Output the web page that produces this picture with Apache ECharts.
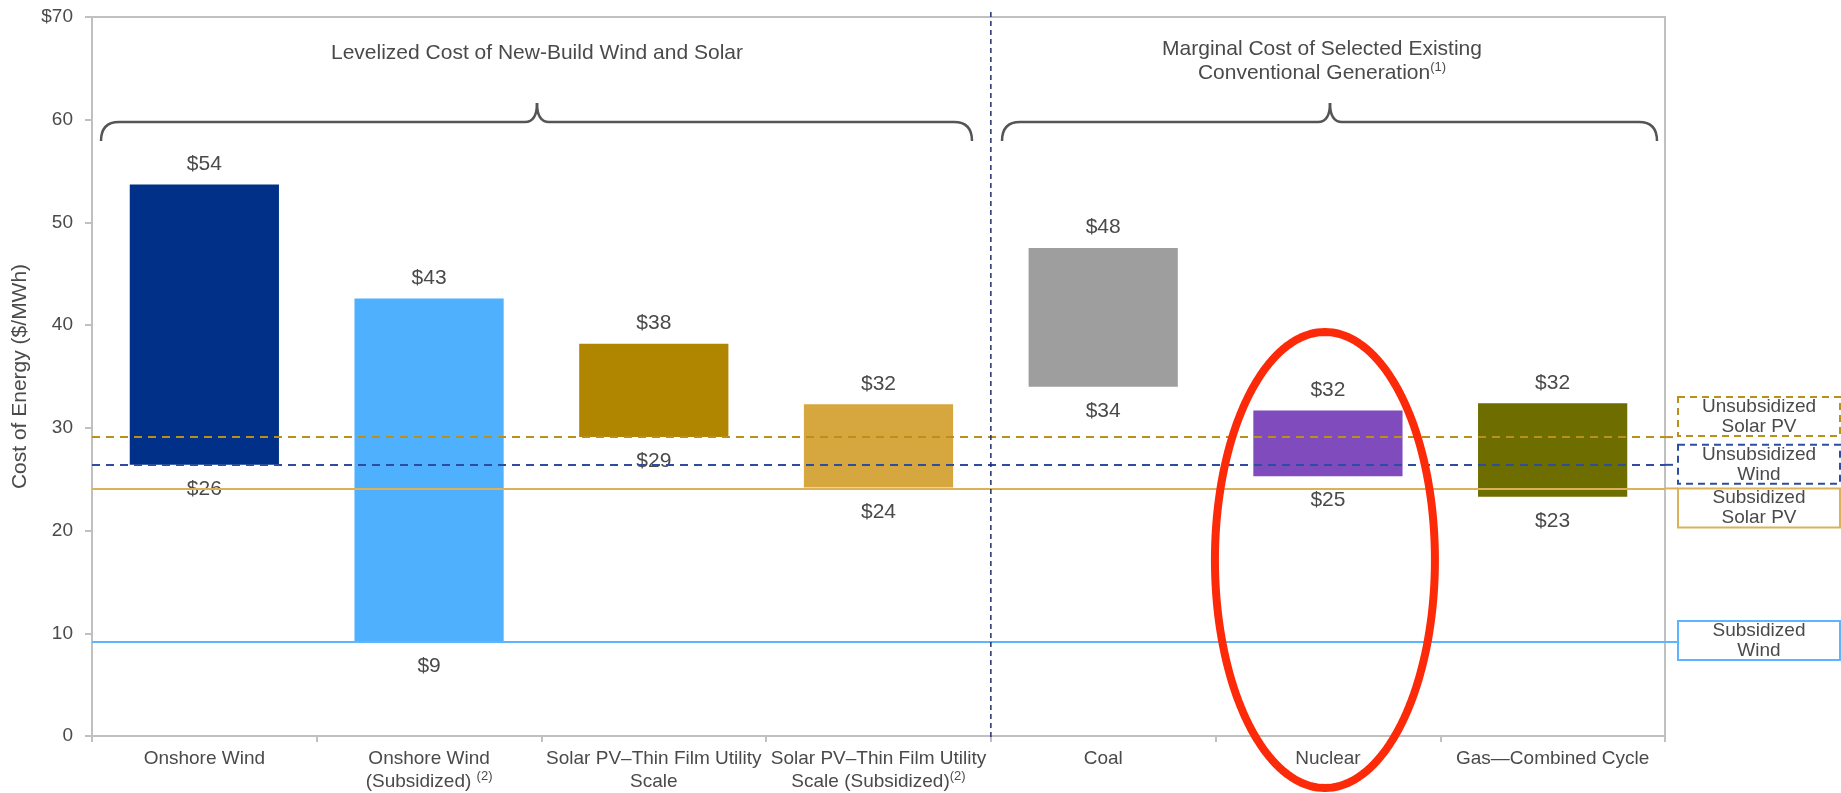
<!DOCTYPE html>
<html>
<head>
<meta charset="utf-8">
<title>Cost of Energy ($/MWh)</title>
<script src="https://cdn.jsdelivr.net/npm/echarts@6/dist/echarts.min.js"></script>
<style>
  html, body { margin: 0; padding: 0; background: #ffffff; }
  #chart { width: 1841px; height: 793px; }
</style>
</head>
<body>
<div id="chart"></div>
<script>
// ---- data -------------------------------------------------------------
const categories = [
  'Onshore Wind',
  'Onshore Wind\n(Subsidized) {sup|(2)}',
  'Solar PV\u2013Thin Film Utility\nScale',
  'Solar PV\u2013Thin Film Utility\nScale (Subsidized){sup|(2)}',
  'Coal',
  'Nuclear',
  'Gas\u2014Combined Cycle'
];
const lowValues  = [26.4, 9.2, 29.1, 24.2, 34.0, 25.3, 23.3];
const highValues = [53.7, 42.6, 38.2, 32.3, 47.5, 31.7, 32.4];
const yTickLabels = ['0', '10', '20', '30', '40', '50', '60', '$70'];

const groupTitles = [
  'Levelized Cost of New-Build Wind and Solar',
  'Marginal Cost of Selected Existing\nConventional Generation{sup|(1)}'
];

const refLineNames  = ['Unsubsidized\nSolar PV', 'Unsubsidized\nWind', 'Subsidized\nSolar PV', 'Subsidized\nWind'];
const refLineValues = [29.1, 26.4, 24.1, 9.15];

// ---- styles -----------------------------------------------------------
const FONT = "'Liberation Sans', Arial, Helvetica, sans-serif";
const TEXT = '#4a4a4a';
const AXIS = '#c0c0c0';
const barColors = ['#003087', '#4fb0fe', '#b08500', '#d5a73e', '#9e9e9e', '#7f4bbd', '#6e6d00'];
const refStyles = [
  { color: '#b8901a', type: [8, 6], width: 2 },
  { color: '#2d4ea0', type: [8, 6], width: 2 },
  { color: '#dbb25a', type: 'solid', width: 2 },
  { color: '#5cb6ff', type: 'solid', width: 2 }
];
// vertical placement of each legend box relative to its line (px)
const refBoxTop = [-40, -20, 0, -21];

const spanValues = highValues.map((h, i) => h - lowValues[i]);

const chart = echarts.init(document.getElementById('chart'), null, { renderer: 'canvas' });

const option = {
  animation: false,
  backgroundColor: '#ffffff',
  textStyle: { fontFamily: FONT },
  grid: {
    left: 92, right: 176, top: 17, bottom: 56,
    show: true, borderColor: AXIS, borderWidth: 2, backgroundColor: 'transparent'
  },
  xAxis: {
    type: 'category',
    data: categories,
    axisLine: { lineStyle: { color: AXIS, width: 2 } },
    axisTick: { show: true, length: 6, lineStyle: { color: AXIS, width: 2 } },
    axisLabel: {
      interval: 0,
      margin: 11,
      color: TEXT,
      fontSize: 19,
      lineHeight: 23,
      fontFamily: FONT,
      rich: {
        sup: { fontSize: 13, lineHeight: 23, verticalAlign: 'top', color: TEXT, fontFamily: FONT, padding: [0, 0, 6, 0] }
      }
    },
    splitLine: { show: false }
  },
  yAxis: {
    type: 'value',
    min: 0, max: 70, interval: 10,
    name: 'Cost of Energy ($/MWh)',
    nameLocation: 'middle',
    nameGap: 55,
    nameTextStyle: { color: TEXT, fontSize: 21, fontFamily: FONT },
    axisLine: { show: true, lineStyle: { color: AXIS, width: 2 } },
    axisTick: { show: true, length: 7, lineStyle: { color: AXIS, width: 2 } },
    axisLabel: {
      margin: 19, color: TEXT, fontSize: 19, fontFamily: FONT,
      formatter: (v) => yTickLabels[Math.round(v / 10)]
    },
    splitLine: { show: false }
  },
  series: [
    {
      name: 'low',
      type: 'bar',
      stack: 'range',
      barWidth: '66.4%',
      silent: true,
      data: lowValues,
      itemStyle: { color: 'rgba(0,0,0,0)' },
      label: {
        show: true,
        position: 'insideTop',
        distance: 14,
        color: TEXT,
        fontSize: 21,
        fontFamily: FONT,
        formatter: (p) => '$' + Math.round(lowValues[p.dataIndex])
      }
    },
    {
      name: 'range',
      type: 'bar',
      stack: 'range',
      barWidth: '66.4%',
      silent: true,
      data: spanValues,
      itemStyle: { color: (p) => barColors[p.dataIndex] },
      label: {
        show: true,
        position: 'top',
        distance: 10,
        color: TEXT,
        fontSize: 21,
        fontFamily: FONT,
        formatter: (p) => '$' + Math.round(highValues[p.dataIndex])
      },
      markLine: {
        silent: true,
        symbol: 'none',
        z: 6,
        label: { show: false },
        data: refLineValues.map((v, i) => ({ yAxis: v, lineStyle: refStyles[i] }))
      }
    }
  ]
};

chart.setOption(option);

// ---- annotations drawn on top of the chart ----------------------------
function buildGraphics() {
  const g = [];
  const toPx = (ci, v) => chart.convertToPixel({ gridIndex: 0 }, [ci, v]);
  const plotRight = toPx(6, 0)[0] + (toPx(6, 0)[0] - toPx(5, 0)[0]) / 2;
  const plotTop = toPx(0, 70)[1];
  const plotBottom = toPx(0, 0)[1];

  // dashed separator between the two groups
  const sepX = (toPx(3, 0)[0] + toPx(4, 0)[0]) / 2;
  g.push({
    type: 'line', z: 20, silent: true,
    shape: { x1: sepX, y1: plotTop - 5, x2: sepX, y2: plotBottom + 3 },
    style: { stroke: '#1f2f6e', lineWidth: 1.5, lineDash: [5, 4] }
  });

  // curly braces over each group, built from straight runs and quadratic curves
  const braceStyle = { fill: 'none', stroke: '#555555', lineWidth: 2.5 };
  function addBrace(x0, x1, xm, yTip, yBar, yEnd) {
    const r = 18, t = 12;
    const curves = [
      { x1: x0, y1: yEnd, cpx1: x0, cpy1: yBar, x2: x0 + r, y2: yBar },
      { x1: xm - t, y1: yBar, cpx1: xm, cpy1: yBar, x2: xm, y2: yTip },
      { x1: xm, y1: yTip, cpx1: xm, cpy1: yBar, x2: xm + t, y2: yBar },
      { x1: x1 - r, y1: yBar, cpx1: x1, cpy1: yBar, x2: x1, y2: yEnd }
    ];
    curves.forEach((c) => g.push({ type: 'bezierCurve', z: 20, silent: true, shape: c, style: braceStyle }));
    g.push({ type: 'line', z: 20, silent: true, shape: { x1: x0 + r, y1: yBar, x2: xm - t, y2: yBar }, style: braceStyle });
    g.push({ type: 'line', z: 20, silent: true, shape: { x1: xm + t, y1: yBar, x2: x1 - r, y2: yBar }, style: braceStyle });
  }
  addBrace(101, 972, 537, 103, 122, 141);
  addBrace(1002, 1657, 1330, 103, 122, 141);

  // group titles
  g.push({
    type: 'text', z: 20, silent: true,
    x: 537, y: 53,
    style: { text: groupTitles[0], font: '21px ' + FONT, fill: TEXT, align: 'center', verticalAlign: 'middle' }
  });
  g.push({
    type: 'text', z: 20, silent: true,
    x: 1322, y: 61,
    style: {
      text: groupTitles[1], font: '21px ' + FONT, fill: TEXT, align: 'center', verticalAlign: 'middle',
      lineHeight: 24,
      rich: { sup: { fontSize: 13, fontFamily: FONT, fill: TEXT, verticalAlign: 'top', lineHeight: 24, padding: [0, 0, 6, 0] } }
    }
  });

  // legend boxes at the right end of each reference line
  const boxLeft = 1678, boxWidth = 162, boxHeight = 39;
  refLineValues.forEach((v, i) => {
    const y = toPx(0, v)[1];
    const top = y + refBoxTop[i];
    const st = refStyles[i];
    g.push({
      type: 'line', z: 20, silent: true,
      shape: { x1: plotRight, y1: y, x2: boxLeft, y2: y },
      style: { stroke: st.color, lineWidth: st.width, lineDash: Array.isArray(st.type) ? st.type : null }
    });
    g.push({
      type: 'rect', z: 20, silent: true,
      shape: { x: boxLeft, y: top, width: boxWidth, height: boxHeight },
      style: {
        fill: '#ffffff', stroke: st.color, lineWidth: 2,
        lineDash: Array.isArray(st.type) ? [7, 5] : null
      }
    });
    g.push({
      type: 'text', z: 21, silent: true,
      x: boxLeft + boxWidth / 2, y: top + boxHeight / 2,
      style: {
        text: refLineNames[i], font: '19px ' + FONT, fill: TEXT,
        align: 'center', verticalAlign: 'middle', lineHeight: 20
      }
    });
  });

  // highlight ring around Nuclear, traced as a closed polygon
  const cx = toPx(5, 0)[0] - 3, cy = 560, rx = 110, ry = 228;
  const ring = [];
  for (let k = 0; k < 180; k++) {
    const a = (k / 180) * Math.PI * 2;
    ring.push([cx + rx * Math.cos(a), cy + ry * Math.sin(a)]);
  }
  g.push({
    type: 'polygon', z: 30, silent: true,
    shape: { points: ring },
    style: { fill: 'none', stroke: '#fc2a08', lineWidth: 8, lineJoin: 'round' }
  });

  return g;
}

chart.setOption({ graphic: { elements: buildGraphics() } });
</script>
</body>
</html>
